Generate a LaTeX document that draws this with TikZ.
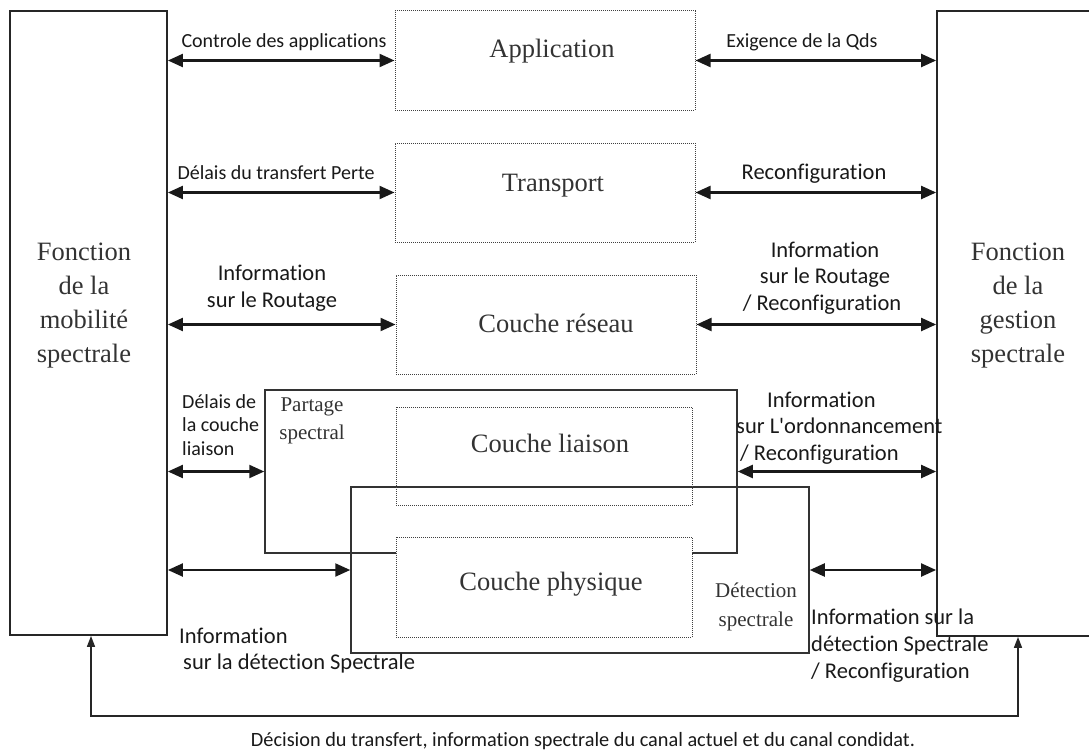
\documentclass[tikz,border=0pt]{standalone}
\usepackage{fontspec}
\setmainfont{Liberation Serif}
\newfontfamily\lab[Ligatures={NoCommon,NoContextual}]{Carlito}
\usetikzlibrary{arrows.meta}
\begin{document}
\begin{tikzpicture}[x=1pt,y=-1pt,
  fbox/.style={draw=black!85, line width=1.8pt, inner sep=0pt},
  dbox/.style={draw=black!75, line width=1pt, dash pattern=on 1pt off 1pt, inner sep=0pt},
  sbox/.style={draw=black!80, line width=1.5pt, inner sep=0pt},
  big/.style={font=\fontsize{26.5}{34}\selectfont, text=black!80, align=center, inner sep=0pt},
  mid/.style={font=\fontsize{21}{28.5}\selectfont, text=black!80, align=center, inner sep=0pt},
  lbl/.style={font=\lab\fontsize{20}{26.5}\selectfont, text=black!90, inner sep=0pt},
  lblb/.style={font=\lab\fontsize{22.5}{26.5}\selectfont, text=black!90, inner sep=0pt},
  conn/.style={line width=2.2pt, draw=black!90, {Triangle[length=15pt,width=13pt]}-{Triangle[length=15pt,width=13pt]}},
  fb/.style={line width=1.6pt, draw=black!85, {Triangle[length=11pt,width=8pt]}-{Triangle[length=11pt,width=8pt]}}
]
\useasboundingbox (0,0) rectangle (1089,752);
\clip (0,0) rectangle (1089,752);

% side function boxes
\node[fbox, minimum width=157pt, minimum height=624pt] (L) at (88.5,323) {};
\node[big] (Ltext) at (84,306) {Fonction\\de la\\mobilité\\spectrale};
\node[fbox, minimum width=163pt, minimum height=625pt] (R) at (1018.5,323.5) {};
\node[big] (Rtext) at (1018,306) {Fonction\\de la\\gestion\\spectrale};

% solid boxes
\node[sbox, minimum width=472pt, minimum height=163pt] (P) at (501,471.5) {};
\node[sbox, minimum width=458pt, minimum height=166pt] (D) at (580,570) {};

% dotted layer boxes
\node[dbox, minimum width=300pt, minimum height=99pt] (A) at (545,60.5) {};
\node[dbox, minimum width=300pt, minimum height=99pt] (T) at (545,192.5) {};
\node[dbox, minimum width=300pt, minimum height=99pt] (N) at (546,324.5) {};
\node[dbox, minimum width=296pt, minimum height=98pt] (K) at (544,456) {};
\node[dbox, fill=white, minimum width=296pt, minimum height=100pt] (Y) at (544,587) {};

\node[big] (At) at (552,51) {Application};
\node[big] (Tt) at (553,186) {Transport};
\node[big] (Nt) at (556,323) {Couche réseau};
\node[big] (Kt) at (550,443) {Couche liaison};
\node[big] (Yt) at (551,584) {Couche physique};
\node[mid] (Pt) at (312,421) {Partage\\spectral};
\node[mid] (Dt) at (756,607) {Détection\\spectrale};

% connectors
\draw[conn] (A.west -| L.east) -- (A.west);
\draw[conn] (A.east) -- (A.east -| R.west);
\draw[conn] (T.west -| L.east) -- (T.west);
\draw[conn] (T.east) -- (T.east -| R.west);
\draw[conn] (N.west -| L.east) -- (N.west);
\draw[conn] (N.east) -- (N.east -| R.west);
\draw[conn] (P.west -| L.east) -- (P.west);
\draw[conn] (P.east) -- (P.east -| R.west);
\draw[conn] (D.west -| L.east) -- (D.west);
\draw[conn] (D.east) -- (D.east -| R.west);

\coordinate (b1) at (91,716);
\coordinate (b2) at (1018,716);
\draw[fb] (b1 |- L.south) -- (b1) -- (b2) -- (b2 |- R.south);

% labels
\node[lbl] (l1) at (284,42) {Controle des applications};
\node[lbl] (r1) at (802,42) {Exigence de la Qds};
\node[lbl] (l2) at (276,173) {Délais du transfert Perte};
\node[lblb] (r2) at (814,174) {Reconfiguration};
\node[lblb, align=center] (l3) at (272,288) {Information\\sur le Routage};
\node[lblb, align=center] (r3) at (822,278) {\hspace*{6pt}Information\\\hspace*{6pt}sur le Routage\\/ Reconfiguration};
\node[lbl, align=left, anchor=west, font=\lab\fontsize{20}{23.5}\selectfont] (l4) at (182,425) {Délais de\\la couche\\liaison};
\node[lblb, align=left, anchor=west] (r4) at (736,428) {\hspace*{31pt}Information\\sur L'ordonnancement\\\hspace*{4pt}/ Reconfiguration};
\node[lblb, align=left, anchor=west, font=\lab\fontsize{22.5}{26}\selectfont] (l5) at (179,651) {Information\\\hspace*{4pt}sur la détection Spectrale};
\node[lblb, align=left, anchor=west, font=\lab\fontsize{22.5}{27}\selectfont] (r5) at (811,646) {Information sur la\\détection Spectrale\\/ Reconfiguration};
\node[lbl, font=\lab\fontsize{20.3}{22}\selectfont] (bt) at (583,741) {Décision du transfert, information spectrale du canal actuel et du canal condidat.};
\end{tikzpicture}
\end{document}
